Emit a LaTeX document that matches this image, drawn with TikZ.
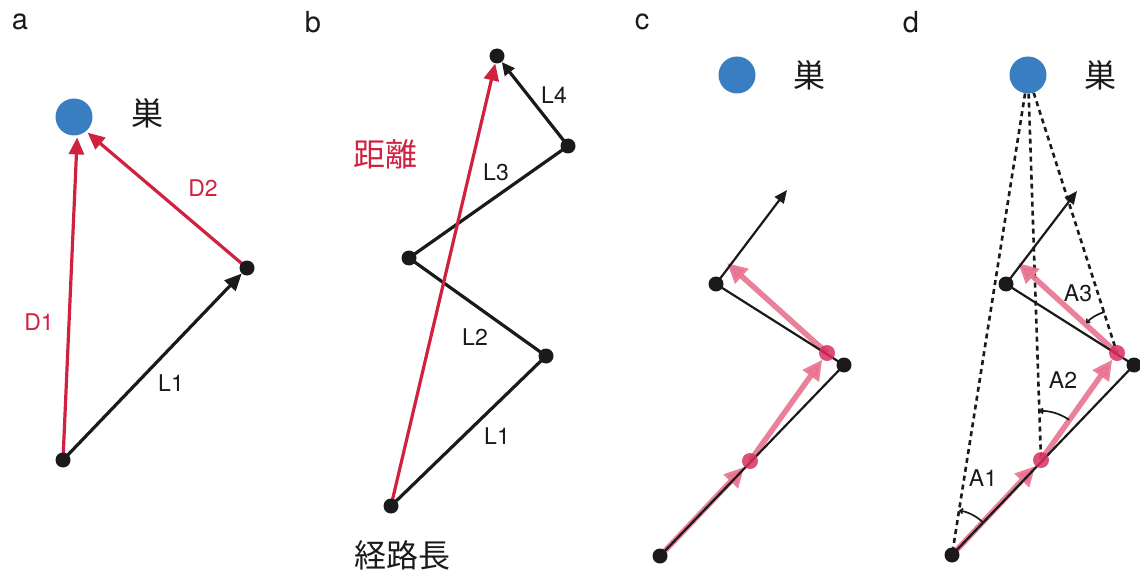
\documentclass[tikz,border=0pt]{standalone}
\usepackage{fontspec}
\setmainfont{TeX Gyre Heros}
\newfontfamily\cjk{Noto Sans CJK JP}
\usetikzlibrary{arrows.meta,calc}
\pgfdeclarelayer{bg}
\pgfsetlayers{bg,main}
\definecolor{nestblue}{HTML}{3A7EC2}
\definecolor{dred}{HTML}{D0213F}
\definecolor{pinkc}{HTML}{E8728F}
\definecolor{pinkdot}{HTML}{D8305F}
\definecolor{ink}{HTML}{1A1A1A}
\begin{document}
\begin{tikzpicture}[x=1pt,y=-1pt,
  dot/.style={circle,fill=ink,inner sep=0pt,minimum size=15pt},
  pdot/.style={circle,fill=pinkdot,fill opacity=0.85,inner sep=0pt,minimum size=16pt},
  nest/.style={circle,fill=nestblue,inner sep=0pt,minimum size=37pt},
  lab/.style={font=\fontsize{23}{23}\selectfont,text=ink},
  rlab/.style={font=\fontsize{23}{23}\selectfont,text=dred},
  plab/.style={font=\fontsize{29}{29}\selectfont,text=ink},
  jp/.style={font=\cjk\fontsize{32}{32}\selectfont,text=ink},
  rjp/.style={font=\cjk\fontsize{32}{32}\selectfont,text=dred},
  thickline/.style={line width=3.2pt,draw=ink},
  redarr/.style={line width=3.2pt,draw=dred,-{Triangle[length=17pt,width=15pt]}},
  blkarr/.style={line width=3.2pt,draw=ink,-{Triangle[length=17pt,width=15pt]}},
  smallarr/.style={line width=3.2pt,draw=ink,-{Triangle[length=13pt,width=12pt]}},
  thinline/.style={line width=2.2pt,draw=ink},
  thinarr/.style={line width=2.2pt,draw=ink,-{Triangle[length=13pt,width=11pt]}},
  pinkarr/.style={line width=5.5pt,draw=pinkc,opacity=0.9,-{Triangle[length=20pt,width=19pt]}},
  dashline/.style={line width=2.6pt,draw=ink,dash pattern=on 5pt off 4pt},
  anglearc/.style={line width=1.7pt,draw=ink,-{Straight Barb[length=2.5pt,width=5pt]}}
]
\useasboundingbox (0,0) rectangle (1140,580);

% ---------- panel a ----------
\node[plab] (la) at (20,22) {a};
\node[nest] (na) at (74,117) {};
\node[jp] (ja) at (147,113) {巣};
\node[dot] (a0) at (63,460) {};
\node[dot] (a1) at (247,268) {};
\node[rlab] (d1) at (39,322) {D1};
\node[rlab] (d2) at (203,188) {D2};
\node[lab] (l1a) at (171,383) {L1};
\begin{pgfonlayer}{bg}
  \draw[blkarr] (a0.center) -- (a1);
  \draw[redarr,shorten >=2pt] (a0.center) -- (na.-80);
  \draw[redarr,shorten >=2pt] (a1.center) -- (na.-50);
\end{pgfonlayer}

% ---------- panel b ----------
\node[plab] (lb) at (313,22) {b};
\node[dot] (b0) at (391,506) {};
\node[dot] (b1) at (546,356) {};
\node[dot] (b2) at (409,258) {};
\node[dot] (b3) at (568,146) {};
\node[dot] (b4) at (497,56) {};
\node[lab] (l1b) at (497,436) {L1};
\node[lab] (l2b) at (475,337) {L2};
\node[lab] (l3b) at (496,172) {L3};
\node[lab] (l4b) at (554,95) {L4};
\node[rjp] (kyori) at (385,154) {距離};
\node[jp] (keiro) at (402,555) {経路長};
\begin{pgfonlayer}{bg}
  \draw[thickline] (b0.center) -- (b1.center) -- (b2.center) -- (b3.center);
  \draw[smallarr] (b3.center) -- (b4);
  \draw[redarr] (b0.center) -- (b4);
\end{pgfonlayer}

% ---------- panel c ----------
\node[plab] (lc) at (642,22) {c};
\node[nest] (nc) at (737,75) {};
\node[jp] (jc) at (809,75) {巣};
\node[dot] (c0) at (660,556) {};
\node[dot] (c1) at (844,365) {};
\node[dot] (c2) at (716,284) {};
\coordinate (ce) at (787,190);
\coordinate (cp) at (727,263);
\node[pdot] (pc1) at (750,461) {};
\node[pdot] (pc2) at (827,353) {};
\begin{pgfonlayer}{bg}
  \draw[pinkarr] (c0.center) -- (pc1);
  \draw[pinkarr] (pc1.center) -- (pc2);
  \draw[pinkarr] (pc2.center) -- (cp);
  \draw[thinline] (c0.center) -- (c1.center) -- (c2.center);
  \draw[thinarr] (c2.center) -- (ce);
\end{pgfonlayer}

% ---------- panel d ----------
\node[plab] (ld) at (911,22) {d};
\node[nest] (nd) at (1028,75) {};
\node[jp] (jd) at (1100,75) {巣};
\node[dot] (e0) at (952,555) {};
\node[dot] (e1) at (1134,365) {};
\node[dot] (e2) at (1006,284) {};
\coordinate (ee) at (1077,191);
\coordinate (ep) at (1018,263);
\node[pdot] (pd1) at (1041,460) {};
\node[pdot] (pd2) at (1117,353) {};
\node[lab] (a1l) at (983,478) {A1};
\node[lab] (a2l) at (1063,380) {A2};
\node[lab] (a3l) at (1078,293) {A3};
\begin{pgfonlayer}{bg}
  \draw[dashline] (nd) -- (e0.center);
  \draw[dashline] (nd) -- (pd1.center);
  \draw[dashline] (nd) -- (pd2.center);
  \draw[pinkarr] (e0.center) -- (pd1);
  \draw[pinkarr] (pd1.center) -- (pd2);
  \draw[pinkarr] (pd2.center) -- (ep);
  \draw[thinline] (e0.center) -- (e1.center) -- (e2.center);
  \draw[thinarr] (e2.center) -- (ee);
  \draw[anglearc] (e0.center) ++(-46:45) arc[start angle=-46, end angle=-81, radius=45];
  \draw[anglearc] (pd1.center) ++(-55:49) arc[start angle=-55, end angle=-92, radius=49];
  \draw[anglearc] (pd2.center) ++(-107:43) arc[start angle=-107, end angle=-136, radius=43];
\end{pgfonlayer}
\end{tikzpicture}
\end{document}
